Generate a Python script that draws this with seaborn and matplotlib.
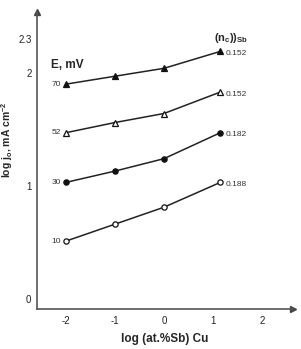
import numpy as np
import pandas as pd
import matplotlib
matplotlib.use("Agg")
import matplotlib.pyplot as plt
import seaborn as sns

log_sb = [-2, -1, 0, 1.15]
e_mv = ["70", "52", "30", "10"]
nc_sb = ["0.152", "0.152", "0.182", "0.188"]
logj_70 = [1.90, 1.97, 2.04, 2.19]
logj_52 = [1.47, 1.56, 1.64, 1.83]
logj_30 = [1.03, 1.13, 1.24, 1.47]
logj_10 = [0.51, 0.66, 0.81, 1.03]

series = [logj_70, logj_52, logj_30, logj_10]
markers = ["^", "^", "o", "o"]
filled = [True, False, True, False]

sns.set_style("white")
plt.rcParams['font.family'] = ['Liberation Sans', 'DejaVu Sans']
plt.rcParams['mathtext.default'] = 'regular'

fig = plt.figure(figsize=(3.01, 3.49), dpi=100)
ax = fig.add_axes([0.123, 0.115, 0.85, 0.851])

for vals, lab, nc, m, f in zip(series, e_mv, nc_sb, markers, filled):
    df = pd.DataFrame({"x": log_sb, "y": vals})
    sns.lineplot(data=df, x="x", y="y", ax=ax, color="#222222", lw=1.1,
                 marker=m, markersize=4.5 if m == "^" else 3.8,
                 markerfacecolor="#111111" if f else "white",
                 markeredgecolor="#111111", markeredgewidth=0.9)
    ax.text(log_sb[0] - 0.11, vals[0], lab, ha="right", va="center", fontsize=6, color="#333333")
    ax.text(log_sb[-1] + 0.1, vals[-1] - 0.02, nc, ha="left", va="center", fontsize=6, color="#333333")

ax.text(-2.3, 2.07, "E, mV", fontsize=8.5, fontweight="bold", ha="left", va="center")
ax.text(1.38, 2.31, "(n$_c$))$_{Sb}$", fontsize=8, fontweight="bold", ha="center", va="center")

ax.set_xlim(-2.59, 2.63)
ax.set_ylim(-0.09, 2.54)
ax.set_xticks([-2, -1, 0, 1, 2])
ax.set_xticklabels(["-2", "-1", "0", "1", "2"])
ax.set_yticks([0, 1, 2, 2.3])
ax.set_yticklabels(["0", "1", "2", "2.3"])
ax.tick_params(direction="in", length=4, width=0.9, colors="#444444", labelsize=7, labelcolor="#222222")
ax.tick_params(axis="y", pad=4)
ax.tick_params(axis="x", pad=5)

for s in ["top", "right"]:
    ax.spines[s].set_visible(False)
for s in ["left", "bottom"]:
    ax.spines[s].set_color("#555555")
    ax.spines[s].set_linewidth(1.2)

ax.plot(1, 0, ">", color="#444444", ms=5, transform=ax.transAxes, clip_on=False)
ax.plot(0, 1, "^", color="#444444", ms=5, transform=ax.transAxes, clip_on=False)

ax.set_xlabel("log (at.%Sb) Cu", fontsize=8.5, fontweight="bold")
ax.set_ylabel("log j$_o$, mA cm$^{-2}$", fontsize=7.5, fontweight="bold")
ax.xaxis.set_label_coords(0.5, -0.08)
ax.yaxis.set_label_coords(-0.085, 0.57)

fig.savefig("out.png", dpi=100)
